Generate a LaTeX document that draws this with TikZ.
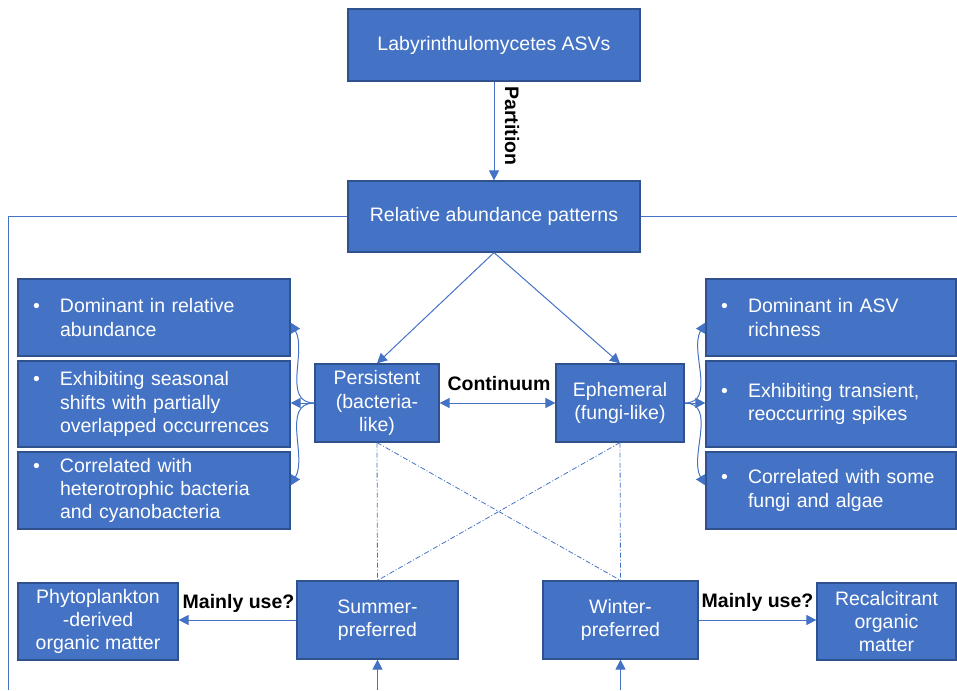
\documentclass[tikz,border=0pt]{standalone}
\usepackage{fontspec}
\setmainfont{Liberation Sans}
\usetikzlibrary{arrows.meta}
\definecolor{boxblue}{HTML}{4472C4}
\definecolor{boxedge}{HTML}{2F528F}
\definecolor{linkblue}{HTML}{4472C4}
\newcommand{\bul}{\makebox[27pt][l]{\textbullet}}
\newcommand{\ind}{\hspace*{27pt}}
\tikzset{
  box/.style={draw=boxedge, fill=boxblue, text=white, line width=1.2pt,
    align=center, inner sep=2pt, font=\fontsize{19.5}{23.3}\selectfont},
  listbox/.style={box, align=left, inner xsep=15pt, text width=#1},
  link/.style={draw=linkblue, line width=1pt, -{Triangle[length=10pt,width=10pt]}},
  plain/.style={draw=linkblue, line width=1pt},
  hint/.style={draw=linkblue, line width=0.8pt, dash pattern=on 5pt off 2pt on 1pt off 2pt},
  tag/.style={font=\fontsize{19.5}{23}\selectfont\bfseries}
}
\begin{document}
\begin{tikzpicture}[x=1pt, y=-1pt]
    \useasboundingbox (0,0) rectangle (957,690);

    % top
    \node[box, minimum width=292pt, minimum height=72pt] (asv) at (494,45) {Labyrinthulomycetes ASVs};
    \node[box, minimum width=292pt, minimum height=71pt] (rel) at (494,216.5) {Relative abundance patterns};
    \draw[link] (asv) -- (rel);
    \node[tag, rotate=-90] (part) at (512,126) {Partition};

    % two groups
    \node[box, minimum width=124pt, minimum height=78pt] (pers) at (377,403) {Persistent\\(bacteria-\\like)};
    \node[box, minimum width=128pt, minimum height=78pt] (eph) at (620,403) {Ephemeral\\(fungi-like)};
    \draw[link] (rel.south) -- (pers.north);
    \draw[link] (rel.south) -- (eph.north);
    \draw[link, {Triangle[length=10pt,width=10pt]}-{Triangle[length=10pt,width=10pt]}] (pers) -- (eph);
    \node[tag] (cont) at (499,384) {Continuum};

    % traits, left
    \node[listbox=242pt, minimum width=272pt, minimum height=77pt] (l1) at (154,317.5)
        {\bul Dominant in relative\\\ind abundance};
    \node[listbox=242pt, minimum width=272pt, minimum height=86pt] (l2) at (154,404)
        {\bul Exhibiting seasonal\\\ind shifts with partially\\\ind overlapped occurrences};
    \node[listbox=242pt, minimum width=272pt, minimum height=77pt] (l3) at (154,490.5)
        {\bul Correlated with\\\ind heterotrophic bacteria\\\ind and cyanobacteria};
    \draw[link] (pers.west) to[out=180, in=-60] ([yshift=-5pt]l1.east);
    \draw[link] (pers.west) -- (pers.west -| l2.east);
    \draw[link] (pers.west) to[out=180, in=60] ([yshift=5pt]l3.east);

    % traits, right
    \node[listbox=220pt, minimum width=250pt, minimum height=77pt] (r1) at (831,317.5)
        {\bul Dominant in ASV\\\ind richness};
    \node[listbox=220pt, minimum width=250pt, minimum height=86pt] (r2) at (831,404)
        {\bul Exhibiting transient,\\\ind reoccurring spikes};
    \node[listbox=220pt, minimum width=250pt, minimum height=77pt] (r3) at (831,490.5)
        {\bul Correlated with some\\\ind fungi and algae};
    \draw[link] (eph.east) to[out=0, in=-120] ([yshift=-5pt]r1.west);
    \draw[link] (eph.east) -- (eph.east -| r2.west);
    \draw[link] (eph.east) to[out=0, in=120] ([yshift=5pt]r3.west);

    % seasons
    \node[box, minimum width=161pt, minimum height=78pt] (sum) at (377.5,620) {Summer-\\preferred};
    \node[box, minimum width=155pt, minimum height=78pt] (win) at (620.5,620) {Winter-\\preferred};
    \draw[hint] (pers.south) -- (sum.north);
    \draw[hint] (pers.south) -- (win.north);
    \draw[hint] (eph.south) -- (sum.north);
    \draw[hint] (eph.south) -- (win.north);

    \node[box, minimum width=160pt, minimum height=77pt] (phyto) at (98,621.5) {Phytoplankton\\-derived\\organic matter};
    \node[box, minimum width=139pt, minimum height=77pt] (recal) at (886.5,621.5) {Recalcitrant\\organic\\matter};
    \draw[link] (sum.west) -- (sum.west -| phyto.east);
    \draw[link] (win.east) -- (win.east -| recal.west);
    \node[tag] (use1) at (238.5,603) {Mainly use?};
    \node[tag] (use2) at (757.5,602) {Mainly use?};

    % loop round the picture
    \coordinate (loopL) at (8,690);
    \coordinate (loopR) at (957,216.5);
    \coordinate (feedS) at (377.5,690);
    \coordinate (feedW) at (620.5,690);
    \draw[plain] (rel.west) -| (loopL);
    \draw[plain] (rel.east) -- (loopR);
    \draw[link] (feedS) -- (sum.south);
    \draw[link] (feedW) -- (win.south);
\end{tikzpicture}
\end{document}
